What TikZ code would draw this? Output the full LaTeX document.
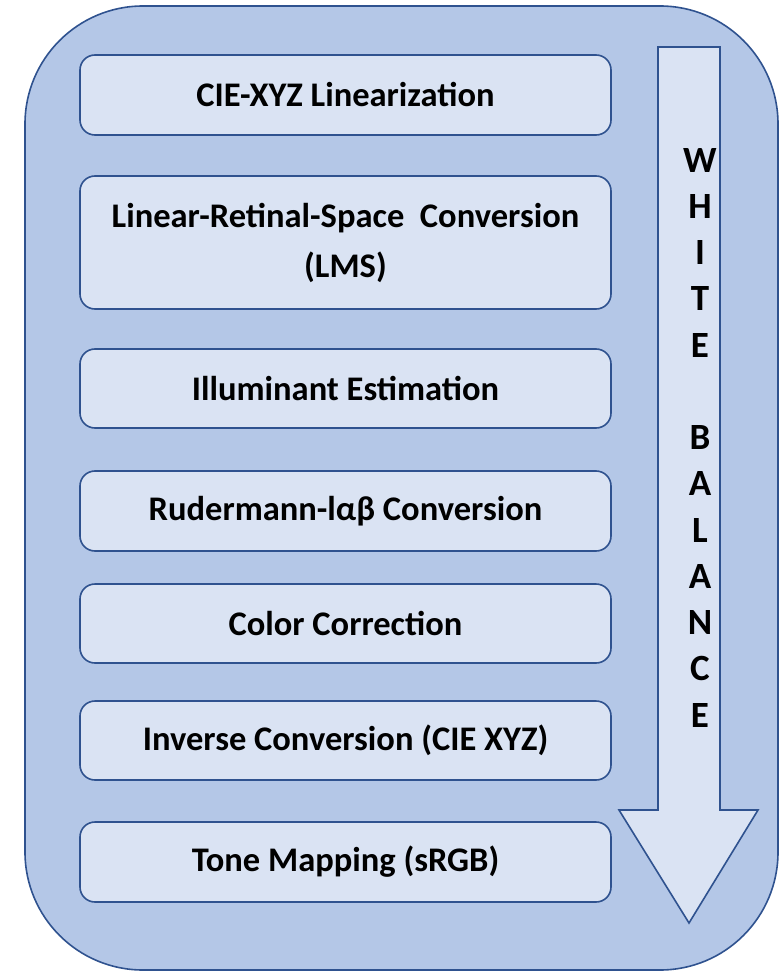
\documentclass[tikz,border=0pt]{standalone}
\usepackage{fontspec}
\setmainfont{Carlito}
\usepackage{tikz}

\definecolor{outerblue}{HTML}{B4C7E7}
\definecolor{innerblue}{HTML}{DAE3F3}
\definecolor{edgeblue}{HTML}{2F528F}

\begin{document}
\begin{tikzpicture}[x=1pt, y=-1pt,
  stagebox/.style={draw=edgeblue, line width=1.6pt, fill=innerblue, rounded corners=15pt,
    minimum width=531pt, align=center, font=\fontsize{34.5}{50}\selectfont\bfseries},
  frame/.style={draw=edgeblue, line width=1.6pt, fill=outerblue, rounded corners=118pt}]
\useasboundingbox (0,0) rectangle (782,973);
\draw[frame] (25,6) rectangle (778,970);
% processing stages
\node (xyz) [stagebox, minimum height=80pt] at (345.5,95) {CIE-XYZ Linearization};
\node (lms) [stagebox, minimum height=133pt] at (345.5,242.5) {Linear-Retinal-Space\ \ Conversion\\(LMS)};
\node (illum) [stagebox, minimum height=79pt] at (345.5,388.5) {Illuminant Estimation};
\node (lab) [stagebox, minimum height=80pt] at (345.5,511) {Rudermann-lαβ Conversion};
\node (cc) [stagebox, minimum height=79pt] at (345.5,623.5) {Color Correction};
\node (inv) [stagebox, minimum height=79pt] at (345.5,740.5) {Inverse Conversion (CIE XYZ)};
\node (tone) [stagebox, minimum height=80pt] at (345.5,862) {Tone Mapping (sRGB)};
% white balance arrow
\draw[draw=edgeblue, line width=1.6pt, fill=innerblue, line join=miter]
  (658,47) -- (720,47) -- (720,810) -- (758,810) -- (689,923) -- (619,810) -- (658,810) -- cycle;
\node (wb) [align=center, font=\fontsize{37}{46.25}\selectfont\bfseries] at (700,437.5)
  {W\\H\\I\\T\\E\\[46.25pt]B\\A\\L\\A\\N\\C\\E};
\end{tikzpicture}
\end{document}
